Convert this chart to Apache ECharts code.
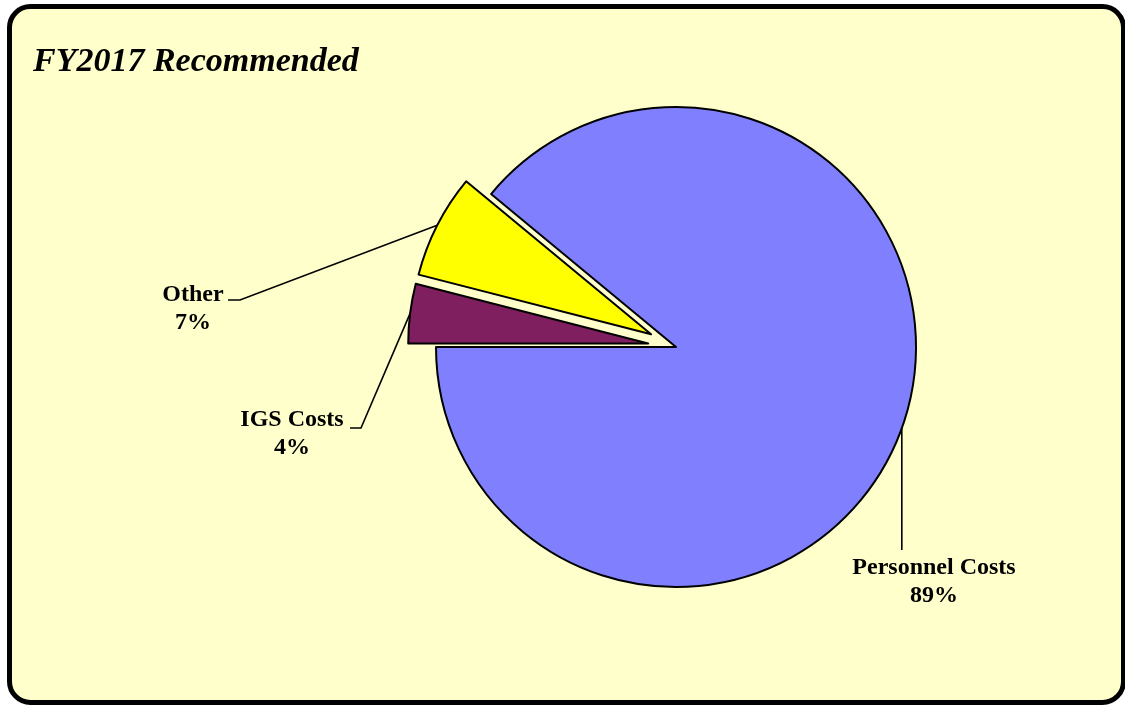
<!DOCTYPE html>
<html>
<head>
<meta charset="utf-8">
<script src="https://cdn.jsdelivr.net/npm/echarts@6/dist/echarts.min.js"></script>
<style>
  html, body { margin: 0; background: #fff; }
  #main { width: 1125px; height: 705px; }
</style>
</head>
<body>
<div id="main"></div>
<script>
const categories = ['IGS Costs', 'Other', 'Personnel Costs']
const values = [4, 7, 89]
const exploded = [true, true, false]
const colors = ['#7F1F5F', '#FFFF00', '#8080FF']

const center = [676, 347]
const radius = 240
const explodeOffset = 28
// where each label sits (text centre) and the bend of its leader line
const labelPos = {
  'Other': { x: 193, y: 309, bend: [240, 300], end: [228, 300] },
  'IGS Costs': { x: 292, y: 434, bend: [361, 428], end: [350, 428] },
  'Personnel Costs': { x: 934, y: 582, bend: null, end: null }
}

const total = values.reduce((a, b) => a + b, 0)

// middle angle of a slice (radians), pie starts at 9 o'clock and runs clockwise
function midAngle (index) {
  let before = 0
  for (let i = 0; i < index; i++) before += values[i]
  const startDeg = 180 - 360 * before / total
  return (startDeg - 180 * values[index] / total) * Math.PI / 180
}

// each slice gets its own pie series so exploded ones can be pushed out from the centre
const seriesList = categories.map((name, k) => {
  const mid = midAngle(k)
  const shift = exploded[k] ? explodeOffset : 0
  const c = [center[0] + shift * Math.cos(mid), center[1] - shift * Math.sin(mid)]
  return {
    type: 'pie',
    center: c,
    radius: radius,
    startAngle: 180,
    clockwise: true,
    silent: true,
    avoidLabelOverlap: false,
    emphasis: { disabled: true },
    data: categories.map((n, i) => ({
      name: n,
      value: values[i],
      itemStyle: i === k
        ? { color: colors[i], borderColor: '#000', borderWidth: 2 }
        : { color: 'rgba(0,0,0,0)', borderWidth: 0 },
      label: { show: i === k },
      labelLine: { show: i === k }
    })),
    label: {
      position: 'outside',
      formatter: '{b}\n{d}%',
      fontFamily: 'Liberation Serif',
      fontWeight: 'bold',
      fontSize: 24,
      lineHeight: 28,
      color: '#000',
      align: 'center'
    },
    labelLine: {
      lineStyle: { color: '#000', width: 1.6 }
    },
    labelLayout: function (params) {
      const pos = labelPos[categories[params.dataIndex]]
      const a = midAngle(params.dataIndex)
      const start = [c[0] + radius * Math.cos(a), c[1] - radius * Math.sin(a)]
      const pts = pos.bend
        ? [start, pos.bend, pos.end]
        : [start, [start[0], 550], [start[0], 550]]
      return {
        x: pos.x,
        y: pos.y,
        align: 'center',
        verticalAlign: 'middle',
        labelLinePoints: pts
      }
    }
  }
})

const chart = echarts.init(document.getElementById('main'))

const option = {
  animation: false,
  title: {
    text: 'FY2017 Recommended',
    left: 28,
    top: 40,
    textStyle: {
      fontFamily: 'Liberation Serif',
      fontStyle: 'italic',
      fontWeight: 'bold',
      fontSize: 34,
      color: '#000'
    }
  },
  graphic: [
    {
      type: 'rect',
      z: -10,
      shape: { x: 9.5, y: 6.5, width: 1114, height: 696, r: 21 },
      style: { fill: '#FFFFCC', stroke: '#000', lineWidth: 5 }
    }
  ],
  series: seriesList
}

chart.setOption(option)
</script>
</body>
</html>
